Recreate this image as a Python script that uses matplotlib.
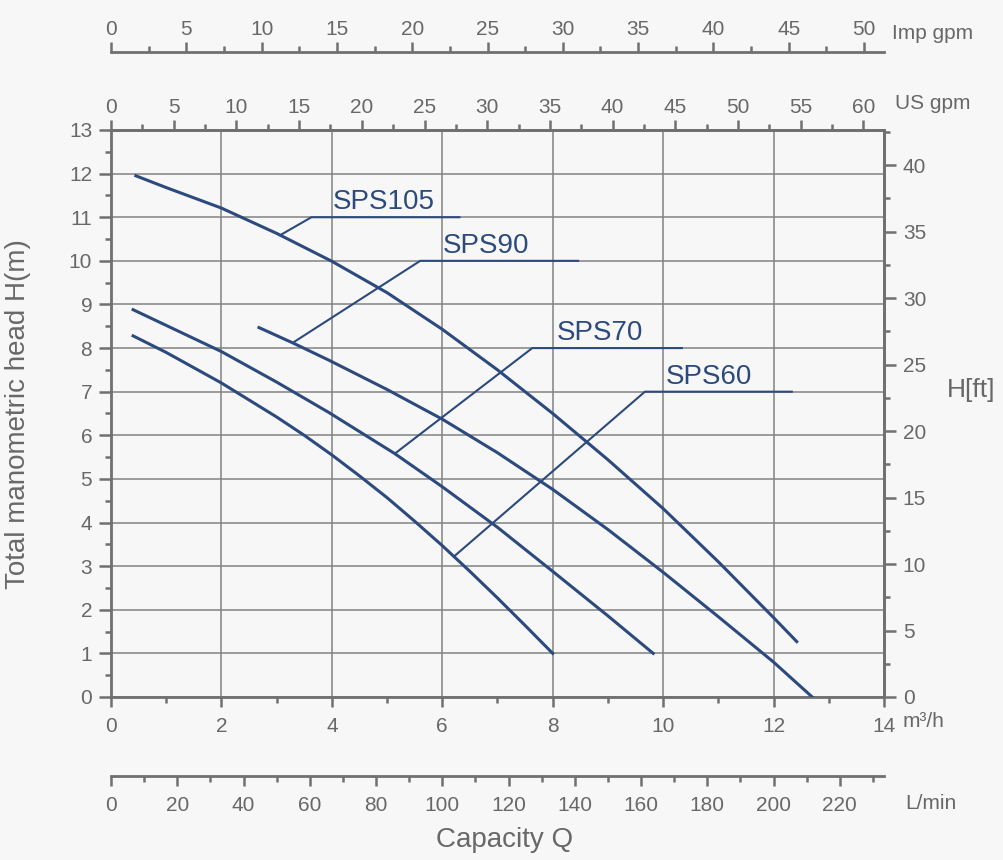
import matplotlib
matplotlib.use("Agg")
import numpy as np
import matplotlib.pyplot as plt
from matplotlib.ticker import FixedLocator

plt.rcParams["font.family"] = ["Liberation Sans", "DejaVu Sans"]

# pump curves, Q in m3/h, H in m
sps105_q = [0.45, 1, 2, 3, 4, 5, 6, 7, 8, 9, 10, 11, 12, 12.42]
sps105_h = [11.95, 11.68, 11.21, 10.63, 9.99, 9.27, 8.43, 7.5, 6.5, 5.44, 4.32, 3.1, 1.82, 1.27]

sps90_q = [2.68, 3.29, 3.95, 5, 6, 7, 8, 9, 10, 11, 12, 12.7]
sps90_h = [8.47, 8.12, 7.72, 7.05, 6.37, 5.6, 4.76, 3.84, 2.86, 1.84, 0.8, 0.0]

sps70_q = [0.4, 1, 2, 3, 3.95, 5.14, 6, 7, 8, 9, 9.82]
sps70_h = [8.88, 8.52, 7.92, 7.22, 6.52, 5.58, 4.82, 3.89, 2.88, 1.86, 1.0]

sps60_q = [0.4, 1, 2, 3, 3.5, 4, 4.5, 5, 5.5, 6, 6.5, 7, 7.5, 8]
sps60_h = [8.28, 7.9, 7.2, 6.42, 6.0, 5.55, 5.07, 4.57, 4.03, 3.47, 2.88, 2.27, 1.64, 1.0]

names = ["SPS105", "SPS90", "SPS70", "SPS60"]
curves = [(sps105_q, sps105_h), (sps90_q, sps90_h), (sps70_q, sps70_h), (sps60_q, sps60_h)]

# leader lines: point on curve, start / end of the shelf, shelf height
point_q = [3.08, 3.29, 5.14, 6.21]
point_h = [10.6, 8.12, 5.58, 3.22]
shelf_q0 = [3.63, 5.6, 7.63, 9.67]
shelf_q1 = [6.31, 8.46, 10.34, 12.33]
shelf_h = [11.0, 10.0, 8.0, 7.0]
text_q = [4.02, 6.01, 8.08, 10.04]

# ticks of every scale
m3h_major = np.arange(0, 15, 2)
m3h_minor = np.arange(1, 14, 2)
hm_major = np.arange(0, 14, 1)
hm_minor = np.arange(0.5, 13, 1)
usgpm_major = np.arange(0, 61, 5)
usgpm_minor = np.arange(2.5, 61, 5)
impgpm_major = np.arange(0, 51, 5)
impgpm_minor = np.arange(2.5, 51, 5)
lmin_major = np.arange(0, 221, 20)
lmin_minor = np.arange(10, 231, 20)
hft_major = np.arange(0, 41, 5)
hft_minor = np.arange(2.5, 43, 5)

bg = "#f7f7f7"
line_col = "#2c4a7e"
axis_col = "#707070"
grid_col = "#828282"
text_col = "#686868"

fig = plt.figure(figsize=(10.04, 8.6), dpi=100, facecolor=bg)
ax = fig.add_axes([111 / 1004, 163 / 860, 773 / 1004, 567 / 860])
ax.set_facecolor(bg)
ax.set_xlim(0, 14)
ax.set_ylim(0, 13)

ax.xaxis.set_major_locator(FixedLocator(m3h_major))
ax.xaxis.set_minor_locator(FixedLocator(m3h_minor))
ax.yaxis.set_major_locator(FixedLocator(hm_major))
ax.yaxis.set_minor_locator(FixedLocator(hm_minor))
ax.grid(which="major", color=grid_col, lw=1.1, zorder=0)
ax.set_axisbelow(True)

for s in ax.spines.values():
    s.set_color(axis_col)
    s.set_linewidth(2)

ax.tick_params(axis="x", which="major", length=7.5, width=1.8, color=axis_col,
               labelsize=15, labelcolor=text_col, pad=7)
ax.tick_params(axis="x", which="minor", length=4.5, width=1.8, color=axis_col)
ax.tick_params(axis="y", which="major", length=8.5, width=1.8, color=axis_col,
               labelsize=15, labelcolor=text_col, pad=5)
ax.tick_params(axis="y", which="minor", length=4.5, width=1.8, color=axis_col)

for (q, h) in curves:
    ax.plot(q, h, color=line_col, lw=2.2, solid_joinstyle="round", zorder=3)

for i, name in enumerate(names):
    ax.plot([point_q[i], shelf_q0[i], shelf_q1[i]], [point_h[i], shelf_h[i], shelf_h[i]],
            color=line_col, lw=1.5, zorder=3)
    ax.text(text_q[i], shelf_h[i] + 0.18, name, color=line_col, fontsize=20,
            ha="left", va="baseline", zorder=4)


def style_sec(sec, axis, major, minor, pad, length=7.5):
    for s in sec.spines.values():
        s.set_color(axis_col)
        s.set_linewidth(2)
    target = sec.xaxis if axis == "x" else sec.yaxis
    target.set_major_locator(FixedLocator(major))
    target.set_minor_locator(FixedLocator(minor))
    sec.tick_params(which="major", length=length, width=1.8, color=axis_col,
                    labelsize=15, labelcolor=text_col, pad=pad)
    sec.tick_params(which="minor", length=4.5, width=1.8, color=axis_col)


us = ax.secondary_xaxis("top", functions=(lambda q: q * 4.4029, lambda g: g / 4.4029))
style_sec(us, "x", usgpm_major, usgpm_minor, 2)

imp = ax.secondary_xaxis(1 + 78 / 567, functions=(lambda q: q * 3.6662, lambda g: g / 3.6662))
style_sec(imp, "x", impgpm_major, impgpm_minor, 2)

lmin = ax.secondary_xaxis(-79 / 567, functions=(lambda q: q * 1000 / 60, lambda l: l * 60 / 1000))
style_sec(lmin, "x", lmin_major, lmin_minor, 7)

ft = ax.secondary_yaxis("right", functions=(lambda h: h * 3.2808, lambda f: f / 3.2808))
style_sec(ft, "y", hft_major, hft_minor, 5, length=8.5)

# unit labels
ax.text(1.0246, -0.044, "m³/h", transform=ax.transAxes, ha="left", va="center",
        fontsize=15, color=text_col)
ax.text(1.0145, 1.0459, "US gpm", transform=ax.transAxes, ha="left", va="center",
        fontsize=15, color=text_col)
ax.text(1.010, 1.171, "Imp gpm", transform=ax.transAxes, ha="left", va="center",
        fontsize=15, color=text_col)
ax.text(1.027, -0.187, "L/min", transform=ax.transAxes, ha="left", va="center",
        fontsize=15, color=text_col)
ax.text(1.0815, 0.5414, "H[ft]", transform=ax.transAxes, ha="left", va="center",
        fontsize=19, color=text_col)

fig.text(18 / 1004, 1 - 414 / 860, "Total manometric head H(m)", rotation=90,
         ha="center", va="center", fontsize=20, color=text_col)
fig.text(505 / 1004, 1 - 840 / 860, "Capacity Q", ha="center", va="center",
         fontsize=20, color=text_col)

fig.savefig("out.png", dpi=100, facecolor=bg)
